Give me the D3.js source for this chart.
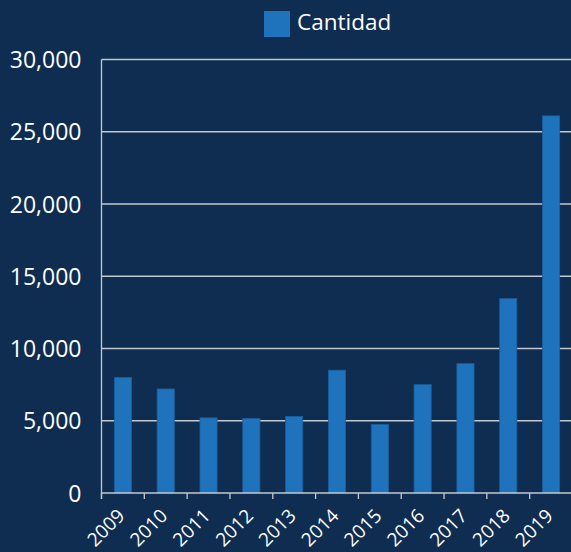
<!DOCTYPE html>
<html><head><meta charset="utf-8">
<script src="https://cdn.jsdelivr.net/npm/d3@7"></script>
<style>html,body{margin:0;padding:0;background:#0f2d50;}svg{display:block;}</style>
</head><body>
<svg id="chart" width="571" height="552"></svg>
<script>
const years = ["2009","2010","2011","2012","2013","2014","2015","2016","2017","2018","2019"];
const cantidad = [8000, 7200, 5200, 5150, 5300, 8500, 4750, 7500, 8950, 13450, 26100];
const yTicks = [0, 5000, 10000, 15000, 20000, 25000, 30000];
const seriesName = "Cantidad";

const W = 571, H = 552;
const m = {left: 101.5, right: -1.5, top: 59.5, bottom: 59};
const svg = d3.select("#chart");
svg.append("rect").attr("width", W).attr("height", H).attr("fill", "#0f2d50");
const font = "'Open Sans', Lato, sans-serif";

const x = d3.scaleBand().domain(years).range([m.left, W - m.right]).paddingInner(0.6).paddingOuter(0.3);
const xb = d3.scaleBand().domain(years).range([m.left, W - m.right]);
const y = d3.scaleLinear().domain([0, 30000]).range([H - m.bottom, m.top]);

// gridlines
svg.append("g").selectAll("line").data(yTicks.filter(d => d > 0)).join("line")
  .attr("x1", m.left).attr("x2", W).attr("y1", d => y(d)).attr("y2", d => y(d))
  .attr("stroke", "#c4c8cf").attr("stroke-width", 1.3);

// bars
svg.append("g").selectAll("rect").data(years).join("rect")
  .attr("x", (d) => x(d)).attr("width", x.bandwidth())
  .attr("y", (d, i) => y(cantidad[i])).attr("height", (d, i) => y(0) - y(cantidad[i]))
  .attr("fill", "#1f73bd").attr("stroke", "#1b5f9c").attr("stroke-width", 0.8);

// y axis
const yAxis = d3.axisLeft(y).tickValues(yTicks).tickSize(0).tickPadding(20)
  .tickFormat(d3.format(","));
const gy = svg.append("g").attr("transform", `translate(${m.left},0)`).call(yAxis);
gy.select(".domain").remove();
gy.selectAll("text").attr("fill", "#ffffff").attr("font-size", 23).attr("font-family", font)
  .attr("dy", "0.35em");
svg.append("line").attr("x1", m.left).attr("x2", m.left).attr("y1", y(30000)).attr("y2", y(0) + 6)
  .attr("stroke", "#c4c8cf").attr("stroke-width", 1.3);

// x axis
svg.append("line").attr("x1", m.left).attr("x2", W).attr("y1", y(0)).attr("y2", y(0))
  .attr("stroke", "#c4c8cf").attr("stroke-width", 1.3);
svg.append("g").selectAll("line").data(years).join("line")
  .attr("x1", d => xb(d)).attr("x2", d => xb(d)).attr("y1", y(0)).attr("y2", y(0) + 6)
  .attr("stroke", "#c4c8cf").attr("stroke-width", 1.3);
svg.append("g").selectAll("text").data(years).join("text")
  .attr("transform", d => `translate(${xb(d) + xb.bandwidth() / 2 + 3},${y(0) + 24}) rotate(-45)`)
  .attr("text-anchor", "end")
  .attr("fill", "#ffffff").attr("font-size", 19).attr("font-family", font)
  .text(d => d);

// legend
svg.append("rect").attr("x", 264).attr("y", 11).attr("width", 26).attr("height", 26).attr("fill", "#1f73bd");
svg.append("text").attr("x", 297).attr("y", 30).attr("fill", "#ffffff")
  .attr("font-size", 22.5).attr("font-family", font).text(seriesName);
</script>
</body></html>
